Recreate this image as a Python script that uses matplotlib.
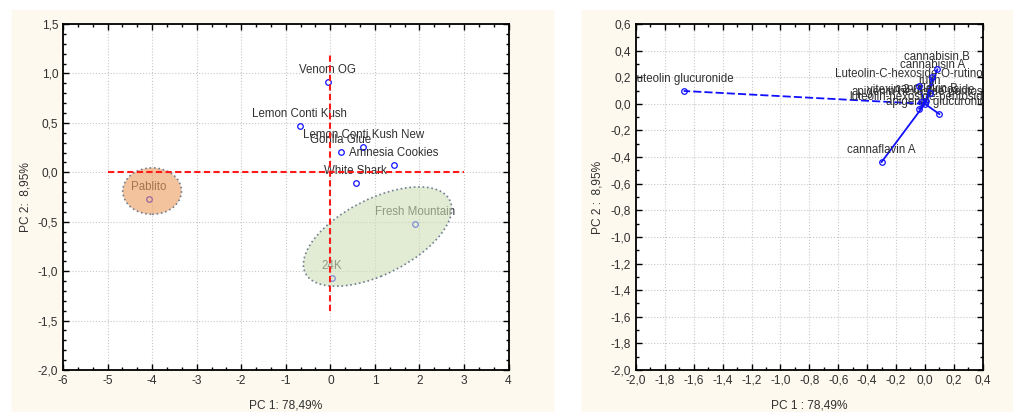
import matplotlib.pyplot as plt
import matplotlib.patches as mpatches
from matplotlib.ticker import MultipleLocator, FuncFormatter

# scores (left panel)
samples = ["Venom OG", "Lemon Conti Kush", "Lemon Conti Kush New", "Gorilla Glue",
           "Amnesia Cookies", "White Shark", "Pablito", "Fresh Mountain", "24K"]
pc1 = [-0.06, -0.69, 0.74, 0.23, 1.42, 0.57, -4.07, 1.90, 0.04]
pc2 = [0.91, 0.465, 0.26, 0.21, 0.077, -0.108, -0.27, -0.52, -1.07]

# group ellipses: center x, center y, width, height, angle
ell_pablito = [-4.0, -0.19, 1.32, 0.47, 0.0]
ell_green = [1.06, -0.65, 3.38, 0.82, 10.2]

# reference cross
hline_x = [-5, 3]
vline_y = [-1.4, 1.2]

# loadings (right panel)
variables = ["luteolin glucuronide", "cannabisin B", "cannabisin A",
             "Luteolin-C-hexoside-O-rutinoside", "rutin", "vitexin 2-O-glucoside",
             "apigenin-hexoside-pentoside", "luteolin-hexoside-pentoside",
             "cannflavin B", "apigenin glucuronide", "cannaflavin A"]
load1 = [-1.67, 0.086, 0.05, -0.04, 0.035, -0.03, 0.0, -0.04, 0.01, 0.10, -0.30]
load2 = [0.097, 0.259, 0.20, 0.135, 0.08, 0.015, 0.0, -0.037, 0.02, -0.077, -0.437]

plt.rcParams['font.family'] = ['Liberation Sans', 'DejaVu Sans']
plt.rcParams['axes.unicode_minus'] = False

cream = '#fdf9ee'
txt = '#303030'
blue = '#1010ff'


def comma(v, pos):
    s = ('%.1f' % v).replace('.', ',')
    return '0,0' if s == '-0,0' else s


def whole(v, pos):
    return '%d' % round(v)


def style(ax):
    ax.tick_params(which='both', direction='in', top=True, right=True,
                   labelsize=8.6, labelcolor=txt, width=1)
    ax.tick_params(which='major', length=4)
    ax.tick_params(which='minor', length=2.5)
    ax.grid(True, which='major', color='#c8c8c8', linestyle=':', linewidth=0.8)
    ax.set_axisbelow(True)
    for s in ax.spines.values():
        s.set_linewidth(1.3)


fig = plt.figure(figsize=(10.13, 4.12), dpi=100)
fig.patches.append(mpatches.Rectangle((12 / 1013, 0), 541 / 1013, 402 / 412,
                                      transform=fig.transFigure, color=cream, zorder=-10))
fig.patches.append(mpatches.Rectangle((582 / 1013, 0), 431 / 1013, 402 / 412,
                                      transform=fig.transFigure, color=cream, zorder=-10))

ax1 = fig.add_axes([0.0622, 0.1019, 0.4398, 0.8398])
ax2 = fig.add_axes([0.6278, 0.1019, 0.3423, 0.8398])

# ---- left: scores
ax1.plot(pc1, pc2, 'o', mfc='none', mec=blue, ms=4, mew=0.9, zorder=3)
for n, x, y in zip(samples, pc1, pc2):
    ax1.annotate(n, (x, y), xytext=(0, 8.6), textcoords='offset points',
                 ha='center', va='center', fontsize=8.3, color=txt, zorder=3)

for e, fc, ec in [(ell_pablito, (0.93, 0.62, 0.38, 0.62), '#6f7f92'),
                  (ell_green, (0.81, 0.87, 0.72, 0.6), '#6f7f92')]:
    ax1.add_patch(mpatches.Ellipse((e[0], e[1]), e[2], e[3], angle=e[4],
                                   facecolor=fc, edgecolor=ec, linestyle=':',
                                   linewidth=1.2, zorder=4))

ax1.plot(hline_x, [0, 0], color='#ff1a1a', ls=(0, (3, 1.6)), lw=1.5, zorder=5)
ax1.plot([0, 0], vline_y, color='#ff1a1a', ls=(0, (3, 1.6)), lw=1.5, zorder=5)

ax1.set_xlim(-6, 4)
ax1.set_ylim(-2.0, 1.5)
ax1.xaxis.set_major_locator(MultipleLocator(1))
ax1.xaxis.set_minor_locator(MultipleLocator(1 / 3))
ax1.xaxis.set_major_formatter(FuncFormatter(whole))
ax1.yaxis.set_major_locator(MultipleLocator(0.5))
ax1.yaxis.set_minor_locator(MultipleLocator(0.1))
ax1.yaxis.set_major_formatter(FuncFormatter(comma))
style(ax1)
ax1.set_xlabel('PC 1: 78,49%', fontsize=8.6, color=txt)
ax1.set_ylabel('PC 2:  8,95%', fontsize=8.6, color=txt)
ax1.xaxis.set_label_coords(0.5, -0.085)
ax1.yaxis.set_label_coords(-0.07, 0.5)

# ---- right: loadings
for n, x, y in zip(variables, load1, load2):
    ls = (0, (4.5, 1.7)) if n == "luteolin glucuronide" else '-'
    ax2.plot([0, x], [0, y], color=blue, ls=ls, lw=1.3, zorder=3)
ax2.plot(load1, load2, 'o', mfc='none', mec=blue, ms=4, mew=0.9, zorder=4)
for n, x, y in zip(variables, load1, load2):
    ax2.annotate(n, (x, y), xytext=(0, 8.6), textcoords='offset points',
                 ha='center', va='center', fontsize=8.3, color=txt,
                 zorder=3, clip_on=True)

ax2.set_xlim(-2.0, 0.4)
ax2.set_ylim(-2.0, 0.6)
ax2.xaxis.set_major_locator(MultipleLocator(0.2))
ax2.xaxis.set_minor_locator(MultipleLocator(0.1))
ax2.yaxis.set_major_locator(MultipleLocator(0.2))
ax2.yaxis.set_minor_locator(MultipleLocator(0.1))
ax2.xaxis.set_major_formatter(FuncFormatter(comma))
ax2.yaxis.set_major_formatter(FuncFormatter(comma))
style(ax2)
ax2.set_xlabel('PC 1 : 78,49%', fontsize=8.6, color=txt)
ax2.set_ylabel('PC 2 :  8,95%', fontsize=8.6, color=txt)
ax2.xaxis.set_label_coords(0.5, -0.085)
ax2.yaxis.set_label_coords(-0.095, 0.5)

fig.savefig('out.png', dpi=100, facecolor='white')
